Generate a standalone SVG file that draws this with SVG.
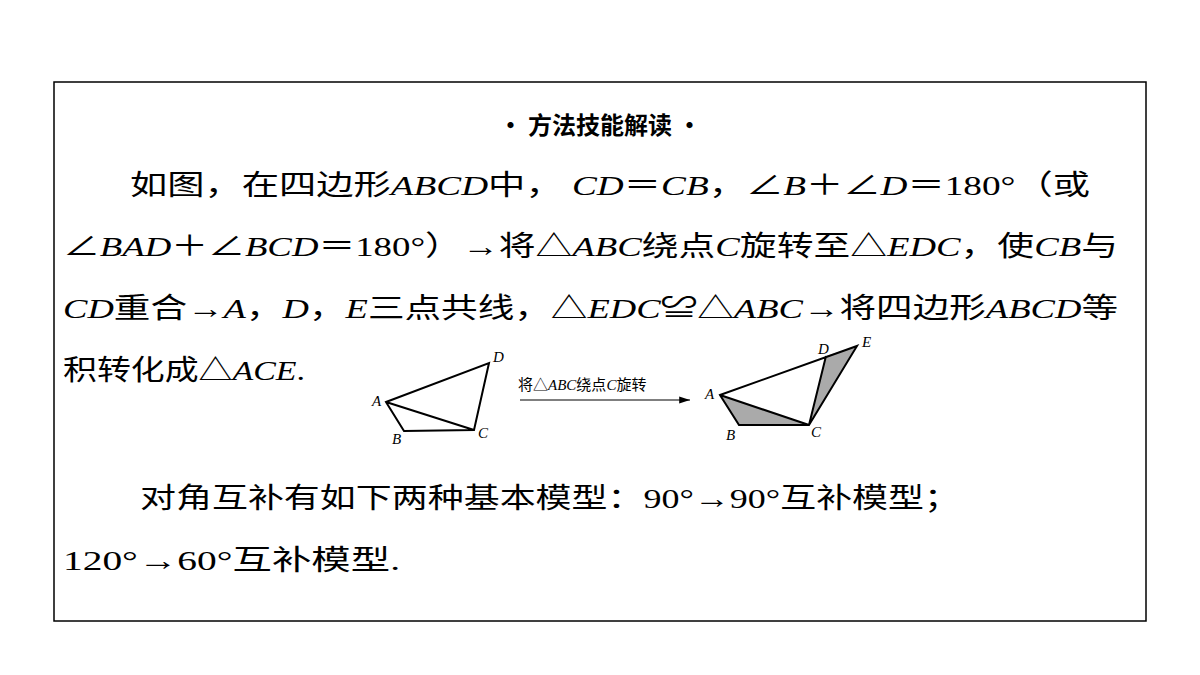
<svg xmlns="http://www.w3.org/2000/svg" width="1200" height="675" viewBox="0 0 1200 675">
<style>
.t{font-family:"Liberation Serif","Noto Sans CJK SC",serif;font-size:28px;fill:#000}
.i{font-style:italic}
.s{font-family:"Liberation Serif","Noto Sans CJK SC",serif;font-size:15px;fill:#000}
.g{fill:none;stroke:#000;stroke-width:2}
</style>
<defs><marker id="ar" markerWidth="10" markerHeight="8" refX="9" refY="4" orient="auto"><path d="M0,1 L9,4 L0,7 Z" fill="#000"/></marker></defs>
<rect x="54" y="82" width="1092" height="539" fill="#fff" stroke="#000" stroke-width="1.5"/>
<text x="600" y="134" text-anchor="middle" font-family="Noto Sans CJK SC,sans-serif" font-weight="bold" font-size="24">· 方法技能解读 ·</text>
<text class="t" x="130" y="195" textLength="960" lengthAdjust="spacingAndGlyphs">如图，在四边形<tspan class="i">ABCD</tspan>中， <tspan class="i">CD</tspan>＝<tspan class="i">CB</tspan>，∠<tspan class="i">B</tspan>＋∠<tspan class="i">D</tspan>＝180°（或</text>
<text class="t" x="63" y="256" textLength="1055" lengthAdjust="spacingAndGlyphs">∠<tspan class="i">BAD</tspan>＋∠<tspan class="i">BCD</tspan>＝180°）→将△<tspan class="i">ABC</tspan>绕点<tspan class="i">C</tspan>旋转至△<tspan class="i">EDC</tspan>，使<tspan class="i">CB</tspan>与</text>
<text class="t" x="63" y="318" textLength="1055" lengthAdjust="spacingAndGlyphs"><tspan class="i">CD</tspan>重合→<tspan class="i">A</tspan>，<tspan class="i">D</tspan>，<tspan class="i">E</tspan>三点共线，△<tspan class="i">EDC</tspan>≌△<tspan class="i">ABC</tspan>→将四边形<tspan class="i">ABCD</tspan>等</text>
<text class="t" x="63" y="380" textLength="242" lengthAdjust="spacingAndGlyphs">积转化成△<tspan class="i">ACE</tspan>.</text>
<text class="t" x="140" y="508" textLength="820" lengthAdjust="spacingAndGlyphs">对角互补有如下两种基本模型：90°→90°互补模型；</text>
<text class="t" x="63" y="570" textLength="337" lengthAdjust="spacingAndGlyphs">120°→60°互补模型.</text>
<g id="fig1">
<path class="g" d="M386,402 L489,363 L474,430 L404,431 Z M386,402 L474,430" stroke-width="1.8"/>
<text class="s i" x="372" y="406">A</text><text class="s i" x="493" y="362">D</text><text class="s i" x="478" y="438">C</text><text class="s i" x="392" y="444">B</text>
</g>
<g id="connectors">
<line x1="520" y1="400" x2="690" y2="400" stroke="#000" stroke-width="1.2" marker-end="url(#ar)"/>
<text class="s" x="518" y="390">将△<tspan class="i">ABC</tspan>绕点<tspan class="i">C</tspan>旋转</text>
</g>
<g id="fig2">
<path d="M720,395 L809,425 L739,425 Z M826,356 L857,346 L809,425 Z" fill="#aaa"/>
<path class="g" d="M720,395 L857,346 L809,425 L739,425 Z M720,395 L809,425 M826,356 L809,425" stroke-width="1.8"/>
<text class="s i" x="705" y="399">A</text><text class="s i" x="818" y="354">D</text><text class="s i" x="862" y="347">E</text><text class="s i" x="811" y="437">C</text><text class="s i" x="726" y="440">B</text>
</g>
</svg>
